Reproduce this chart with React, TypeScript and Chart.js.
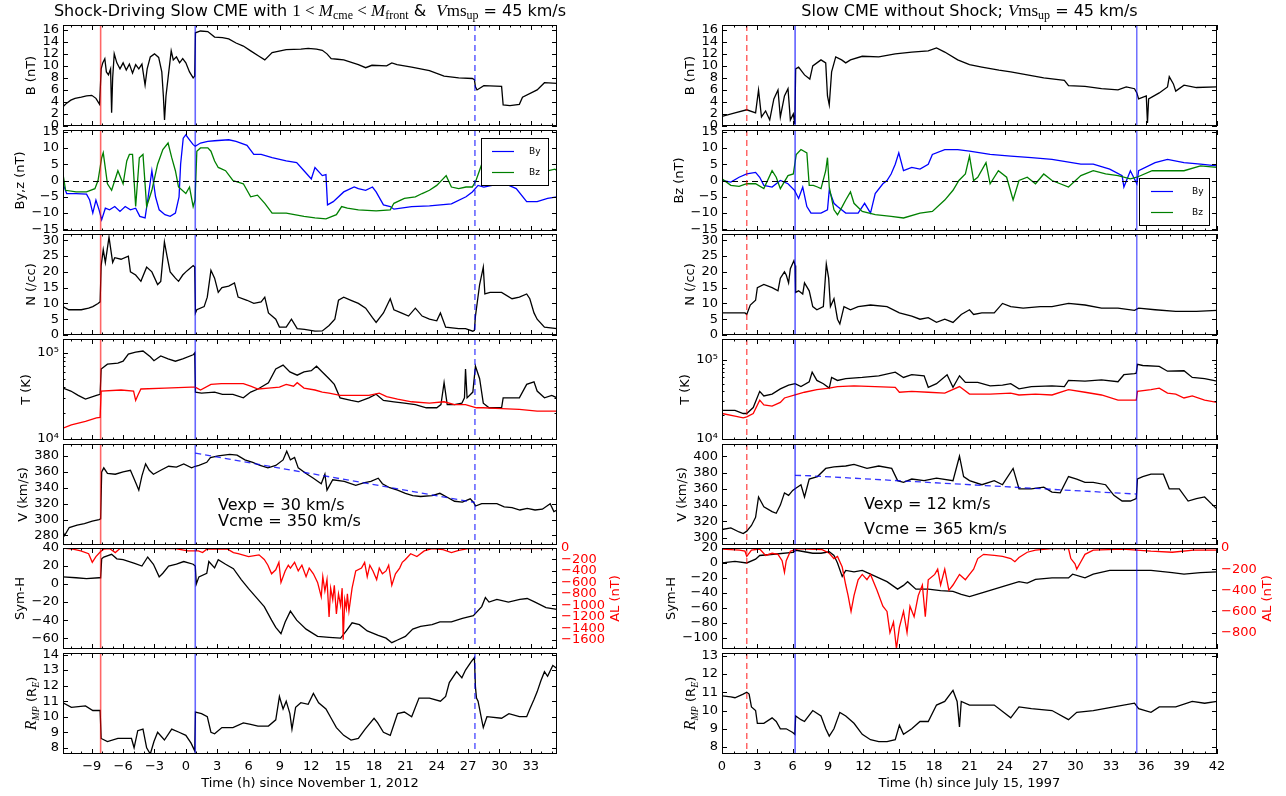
import { useEffect, useRef } from "react";
import { Chart, registerables } from "chart.js";

Chart.register(...registerables);

type P = [number, number];

// ================= LEFT COLUMN : hours since November 1, 2012 =================
const L_X_TICKS = [-9, -6, -3, 0, 3, 6, 9, 12, 15, 18, 21, 24, 27, 30, 33];
const L_EVENT_TIMES = [-8.15, 0.9, 27.65];

const L_B: P[] = [[-11.75,3.2],[-11.4,3.8],[-11,4.3],[-10.6,4.6],[-10,4.8],[-9.5,5.0],[-9,5.1],[-8.6,4.6],[-8.25,3.6],[-8.1,9.5],[-7.95,10.5],[-7.75,11.2],[-7.6,9.0],[-7.4,8.5],[-7.2,9.5],[-7.1,2.2],[-7.0,8.0],[-6.85,12.0],[-6.6,10.5],[-6.3,9.5],[-6.0,10.5],[-5.7,9.3],[-5.4,10.3],[-5.1,8.8],[-4.8,10.2],[-4.5,9.5],[-4.2,10.3],[-3.9,6.8],[-3.7,9.5],[-3.4,11.5],[-3.0,12.0],[-2.6,11.4],[-2.3,9.0],[-2.15,5],[-2.04,1.0],[-1.9,5.0],[-1.7,8.0],[-1.4,12.5],[-1.2,11.0],[-0.9,11.5],[-0.6,10.5],[-0.3,11.2],[0,10.5],[0.35,9.0],[0.7,8.0],[0.85,8.3],[0.92,15.5],[1.4,15.8],[2.1,15.7],[2.75,14.8],[3.5,14.7],[4.1,14.5],[4.8,13.8],[5.5,13.3],[6.2,12.5],[7.0,11.6],[7.55,11.0],[8.25,12.2],[9.6,12.7],[11.0,12.8],[11.7,12.9],[12.5,12.8],[13.05,12.6],[13.5,12.0],[13.9,11.2],[14.5,11.1],[15.1,11.0],[16.5,10.2],[17.2,9.7],[17.8,10.1],[19.2,10.0],[19.7,10.5],[20.2,10.2],[21.6,9.8],[23.3,9.2],[24.7,8.3],[26.1,8.0],[27.4,7.9],[27.6,7.7],[27.7,6.5],[27.85,6.0],[28.5,6.7],[30.2,6.6],[30.35,3.5],[31.0,3.4],[31.9,3.6],[32.2,4.8],[33.6,6.0],[34.3,7.2],[35.5,7.1]];

const L_BY: P[] = [[-11.75,-1],[-11.4,-4],[-10.5,-4],[-9.5,-4.2],[-9.2,-6],[-8.9,-10],[-8.6,-6],[-8.3,-9],[-8.05,-12],[-7.7,-8.5],[-7.3,-9],[-6.8,-8],[-6.3,-9.5],[-5.8,-8],[-5.3,-9],[-4.8,-8.5],[-4.4,-11],[-3.9,-11.5],[-3.6,-5],[-3.25,3],[-2.9,-5],[-2.55,-9],[-2.0,-10.5],[-1.5,-11],[-1.0,-10],[-0.65,-5],[-0.5,5],[-0.25,13],[0,14],[0.35,12.5],[0.7,11],[0.9,10.5],[1.4,11.5],[2.1,12],[2.75,12.2],[4.1,12.5],[4.8,12],[5.85,10.8],[6.5,8],[7.2,8],[8.25,7],[9.6,6],[10.6,5.5],[11.3,3],[12.0,0.5],[12.35,4],[13.05,1.5],[13.4,1.8],[13.55,-7.5],[14.1,-6.5],[15.1,-3.5],[16.1,-2],[16.5,-2.5],[17.2,-3],[17.85,-2],[18.2,-3.5],[18.9,-7.5],[19.55,-8],[19.9,-8.8],[21.6,-8],[23.3,-7.8],[25.4,-7.2],[26.8,-5],[27.4,-3.5],[27.95,-1.5],[28.5,-2],[30.0,-1],[30.9,-1.5],[31.6,-2.5],[32.6,-6.5],[33.6,-6.5],[34.6,-5.5],[35.5,-5]];

const L_BZ: P[] = [[-11.75,2],[-11.5,-3],[-10.5,-3.5],[-9.5,-3.5],[-8.7,-2.5],[-8.4,0],[-8.05,7],[-7.9,8.5],[-7.5,-1],[-7.1,-3],[-6.8,0],[-6.5,3],[-6.0,-1],[-5.65,6],[-5.4,8],[-5.1,8],[-4.8,-8],[-4.45,7],[-4.1,8],[-3.75,-8],[-3.25,-3],[-2.7,5],[-2.2,9.5],[-1.7,11.5],[-1.35,7],[-1.0,3],[-0.7,-2],[0,-4],[0.35,-2],[0.7,-8],[0.88,-6],[1.05,9],[1.4,10],[2.1,10],[2.4,9],[2.75,6],[3.1,4],[3.8,3],[4.5,0],[5.5,-1],[6.2,-5],[6.85,-4.5],[7.55,-7],[8.25,-10],[9.6,-10],[11.3,-11],[12.35,-11.5],[13.4,-11.8],[14.4,-10.5],[14.9,-8],[15.45,-8.5],[16.5,-9],[18.2,-9.3],[19.55,-9],[19.9,-7],[20.9,-5.5],[21.95,-5],[22.6,-4],[23.3,-3],[24.0,-1.5],[24.9,1.5],[25.4,-2],[26.1,-2.5],[26.8,-2],[27.4,-2],[27.75,0],[28.3,5],[29.5,3],[31,2],[32.5,3],[34,2.5],[35.3,3.5],[35.5,3]];

const L_N: P[] = [[-11.75,9],[-11.2,8],[-10,8],[-9.3,8.5],[-8.9,9],[-8.4,10],[-8.2,10.5],[-8.1,22],[-7.9,27],[-7.7,23],[-7.35,31],[-7.0,23],[-6.8,24.5],[-6.2,24],[-5.5,25],[-5.3,20],[-4.8,19],[-4.3,17],[-3.75,21.5],[-3.25,20],[-2.7,16],[-2.4,17],[-2.05,29.5],[-1.8,25],[-1.5,20],[-1.0,18],[-0.7,17],[-0.3,19],[0,20],[0.35,21],[0.7,22],[0.85,21.5],[0.92,7],[1.05,8],[1.75,9],[2.05,12],[2.4,20.5],[2.75,18],[3.1,13.5],[3.45,15],[4.1,15.5],[4.65,16.5],[5.0,12],[5.85,11],[6.5,10],[7.2,10.5],[7.55,12],[7.9,7],[8.6,5],[8.95,2.5],[9.6,2.5],[10.1,5],[10.65,2],[11.35,1.8],[12.35,1.2],[13.05,1.3],[13.7,3],[14.25,5],[14.6,11],[15.1,12],[15.8,11],[16.5,10],[17.2,8.5],[17.85,5.5],[18.2,4],[18.9,7],[19.55,11.5],[19.9,8],[20.6,7],[21.3,6],[21.95,8.5],[22.6,6],[23.3,5],[24.0,4.5],[24.35,7],[24.85,2.5],[26.1,2],[26.75,2],[27.45,1.2],[27.6,1.5],[27.7,6],[28.1,16],[28.45,21.5],[28.6,13],[29.1,13.5],[30.2,13.5],[31.2,11.5],[31.9,12],[32.6,13],[32.9,11.5],[33.3,7],[33.6,5],[34.3,2.5],[35.5,2]];

const L_TP: P[] = [[-11.75,39000],[-11,36000],[-10.3,32000],[-9.6,29000],[-8.55,32000],[-8.2,33000],[-8.1,65000],[-7.5,74000],[-6.5,76000],[-6,80000],[-5.5,97000],[-4.8,102000],[-4.1,105000],[-3.4,90000],[-3.05,81000],[-2.4,92000],[-1.7,85000],[-1.0,80000],[-0.3,85000],[0.7,95000],[0.85,100000],[0.92,35000],[1.5,34000],[2.75,35000],[3.5,33000],[4.5,33000],[5.5,30000],[6.2,35000],[6.9,38000],[7.9,45000],[8.6,65000],[9.3,72000],[9.95,60000],[10.65,55000],[11.3,60000],[12.0,62000],[12.5,70000],[13.05,60000],[13.7,50000],[14.2,43000],[14.75,30000],[15.8,28000],[16.5,27000],[17.5,30000],[18.2,33000],[18.9,28000],[19.9,27000],[20.9,26000],[21.95,25000],[23.0,23000],[24.0,23000],[24.4,25000],[24.7,45000],[25.0,25000],[25.7,25000],[26.4,26000],[26.65,30000],[26.75,65000],[26.9,30000],[27.45,35000],[27.7,70000],[28.1,50000],[28.45,26000],[29.0,23000],[30.2,23000],[30.35,30000],[31.9,30000],[32.6,43000],[33.3,46000],[33.6,36000],[34.3,30000],[35.0,32000],[35.5,30000]];

const L_TE: P[] = [[-11.75,13300],[-10.95,14500],[-9.6,16000],[-8.55,17500],[-8.2,17800],[-8.1,36000],[-6.2,37000],[-5.0,36000],[-4.8,28000],[-4.6,32000],[-4.3,38000],[-2,39000],[0.5,40000],[0.9,40000],[1.4,37000],[2.4,43000],[3.4,44000],[5.5,44000],[6.2,41000],[6.9,38000],[7.9,39000],[8.95,40000],[9.6,43000],[10.3,41000],[10.65,45000],[11.3,39000],[12.35,37000],[13.05,35000],[13.7,34000],[14.75,32000],[16.5,32000],[17.5,32000],[18.5,34000],[19.2,31000],[20.25,29000],[21.6,27000],[23.3,26000],[24.7,27000],[25.7,25000],[26.75,25000],[27.8,23000],[28.45,23000],[30.2,22500],[31.9,22000],[33.6,21000],[35.5,21000]];

const L_V: P[] = [[-11.75,285],[-11.6,280],[-11.15,290],[-10.4,293],[-9.7,295],[-8.95,298],[-8.3,300],[-8.15,301],[-8.05,360],[-7.85,365],[-7.5,358],[-6.75,357],[-6.0,360],[-5.3,362],[-4.75,345],[-4.5,337],[-4.2,355],[-3.85,370],[-3.5,362],[-3.1,357],[-2.4,362],[-1.65,367],[-0.9,366],[-0.2,370],[0.55,365],[0.9,367],[1.25,368],[2.0,372],[2.35,378],[3.1,380],[4.2,382],[4.9,381],[5.65,375],[6.4,372],[7.1,368],[7.85,365],[8.6,368],[9.3,375],[9.65,386],[10.0,375],[10.4,378],[10.75,365],[11.5,358],[12.2,352],[12.95,345],[13.3,357],[13.5,337],[14.05,350],[15.15,348],[16.25,343],[17.0,346],[17.7,348],[18.4,352],[18.8,345],[19.5,340],[20.25,337],[21.0,333],[21.7,330],[22.45,329],[23.55,330],[24.3,333],[25.0,328],[25.7,323],[26.45,322],[27.2,326],[27.5,322],[27.7,317],[28.3,320],[29.75,320],[30.45,316],[31.2,315],[31.95,312],[32.65,314],[33.4,312],[34.1,313],[34.85,320],[35.2,310],[35.5,312]];

const L_VFIT: P[] = [[0.9,383.5],[27.65,321.5]];

const L_SYMH: P[] = [[-11.75,8],[-10.5,7],[-9.5,6],[-8.3,7],[-8.15,7],[-8.05,28],[-7.85,30],[-7.1,33],[-6.6,28],[-6.0,27],[-4.9,23],[-4.2,20],[-3.65,30],[-3.1,22],[-2.55,8],[-2.2,12],[-1.65,20],[-0.9,22],[-0.2,25],[0.7,22],[0.9,20],[1.0,0],[1.25,8],[2.0,12],[2.2,25],[2.75,18],[3.1,27],[3.8,22],[4.55,17],[5.3,5],[6.0,-5],[6.75,-15],[7.5,-25],[8.2,-40],[8.6,-48],[9.1,-55],[9.5,-42],[10.0,-30],[10.6,-40],[11.5,-50],[12.6,-58],[13.7,-59],[14.8,-60],[15.35,-52],[15.9,-43],[16.6,-45],[17.35,-52],[18.4,-57],[19.15,-60],[19.7,-65],[20.25,-62],[21.0,-58],[21.7,-50],[22.45,-47],[23.55,-45],[24.3,-42],[25.4,-42],[26.45,-38],[27.5,-35],[28.3,-25],[28.65,-15],[29.0,-20],[29.75,-17],[30.85,-20],[31.95,-17],[32.65,-16],[33.4,-20],[34.45,-26],[35.5,-28]];

const L_AL: P[] = [[-11.75,0],[-10.8,-20],[-10.05,-50],[-9.3,-100],[-8.95,-250],[-8.6,-150],[-8.15,-60],[-7.85,-20],[-7.3,-10],[-6.75,-80],[-6.3,-10],[-4,-5],[-1,-10],[0.2,-50],[1.2,-50],[1.6,-80],[2.0,-20],[4.0,-20],[4.55,-80],[5.0,-100],[6.0,-150],[7.0,-120],[7.5,-200],[7.85,-300],[8.2,-450],[8.6,-380],[8.9,-250],[9.1,-600],[9.5,-400],[9.8,-300],[10.0,-350],[10.4,-250],[10.75,-400],[11.1,-300],[11.5,-500],[11.8,-350],[12.2,-450],[12.6,-600],[12.95,-850],[13.1,-500],[13.3,-750],[13.5,-550],[13.7,-1200],[13.85,-700],[14.05,-900],[14.2,-650],[14.4,-1150],[14.6,-800],[14.8,-1000],[14.95,-700],[15.05,-1600],[15.2,-900],[15.35,-1050],[15.45,-800],[15.6,-1100],[15.9,-700],[16.25,-400],[16.8,-350],[17.1,-250],[17.35,-500],[17.6,-300],[17.9,-400],[18.25,-550],[18.5,-350],[18.8,-450],[19.15,-400],[19.4,-300],[19.7,-650],[20.05,-450],[20.45,-350],[20.7,-250],[21.0,-200],[21.5,-100],[22.1,-150],[22.8,-50],[23.55,-10],[24.6,-30],[25.4,-80],[26.1,-40],[27,-10],[30,-5],[33,-10],[35.5,-5]];

const L_RMP: P[] = [[-11.75,10.9],[-10.95,10.6],[-9.6,10.7],[-8.9,10.4],[-8.2,10.4],[-8.1,8.6],[-7.5,8.4],[-6.5,8.6],[-5.2,8.6],[-4.95,8.0],[-4.6,9.1],[-4.1,9.2],[-3.75,8.0],[-3.4,7.6],[-3.05,8.4],[-2.7,9.0],[-2.05,8.5],[-1.35,9.2],[-0.65,9.0],[0,8.8],[0.5,8.3],[0.85,7.8],[0.92,10.3],[1.5,10.2],[2.05,10.0],[2.4,9.0],[2.75,8.9],[3.45,9.3],[4.5,9.3],[5.5,9.6],[6.2,9.5],[6.9,9.4],[7.9,9.4],[8.6,9.8],[8.95,11.3],[9.3,10.5],[9.6,11.0],[9.95,10.2],[10.15,9.2],[10.5,10.6],[11.0,10.9],[11.7,10.8],[12.2,11.5],[12.7,10.9],[13.4,10.5],[13.9,9.9],[14.4,9.3],[15.1,8.8],[15.8,8.5],[16.5,8.6],[17.15,9.2],[18.0,9.9],[18.35,9.6],[18.9,9.0],[19.55,8.8],[19.9,9.5],[20.25,10.2],[20.9,10.3],[21.6,10.0],[22.3,11.2],[23.3,11.2],[24.35,11.0],[24.85,11.3],[25.2,12.2],[25.9,12.9],[26.4,12.5],[26.75,13.0],[27.25,13.5],[27.6,13.8],[27.7,11.9],[27.8,11.2],[27.95,11.0],[28.3,9.8],[28.45,9.3],[28.8,10.0],[30.2,9.9],[30.9,10.2],[31.9,10.0],[32.6,10.0],[32.9,10.5],[33.3,11.1],[33.6,11.6],[33.95,12.3],[34.3,12.9],[34.6,12.6],[35.1,13.3],[35.5,13.1]];

// ================= RIGHT COLUMN : hours since July 15, 1997 =================
const R_X_TICKS = [0, 3, 6, 9, 12, 15, 18, 21, 24, 27, 30, 33, 36, 39, 42];
const R_EVENT_TIMES = [2.1, 6.2, 35.2];

const R_B: P[] = [[0,1.6],[1.1,2.2],[2.1,2.7],[2.85,2.2],[3.1,6.0],[3.35,1.5],[3.7,2.5],[4.05,1.0],[4.4,4.5],[4.75,6.0],[4.95,1.5],[5.3,5.0],[5.6,6.2],[5.8,1.0],[6.05,2.0],[6.18,0.3],[6.25,9.5],[6.5,9.8],[7.0,8.5],[7.45,7.8],[7.7,10],[8.4,11],[8.8,10.5],[8.95,5],[9.1,3.5],[9.3,9],[9.65,11.5],[10.15,11],[10.5,10.5],[10.9,11.0],[11.9,11.6],[13.3,11.5],[14.7,12],[16.1,12.3],[17.5,12.5],[18.2,13.0],[18.9,12.3],[20.0,11],[21.0,10.2],[22.05,9.8],[23.5,9.3],[24.5,9.0],[25.9,8.5],[27.3,8.0],[29.05,7.6],[29.4,6.7],[30.8,6.6],[32.2,6.2],[33.6,6.0],[34.3,6.5],[35.0,6.2],[35.2,5.5],[35.35,4.5],[36.0,5.0],[36.1,0.5],[36.2,4.5],[37.1,5.5],[37.8,6.5],[37.95,8.2],[38.3,7.0],[38.5,5.8],[39.2,6.8],[40.25,6.4],[42,6.5]];

const R_BY: P[] = [[0,0],[0.75,-0.5],[1.45,1],[2.1,2],[2.85,2.5],[3.2,1],[3.55,-1.5],[4.25,-2],[4.95,0],[5.6,-1],[6.15,-3],[6.5,-5.5],[6.85,-2],[7.2,-8],[7.55,-10],[8.4,-10],[8.95,-9],[9.1,-3],[9.5,-7],[9.8,-8],[10.5,-10],[11.55,-10],[12.1,-7],[12.6,-10],[13.0,-4],[13.65,-1],[14.0,0],[14.35,2],[14.7,5],[15.0,8.5],[15.4,3],[16.1,4],[16.8,3.5],[17.5,5],[17.85,8],[18.9,9.5],[20.0,9.5],[21.0,9],[22.75,8],[24.5,7.5],[26.25,7],[28.0,6.5],[30.45,5],[31.5,5],[32.9,3.5],[33.95,1.5],[34.1,-2],[34.65,3],[35.2,-1],[35.35,3],[36.75,5.5],[37.8,6.5],[39.2,5.5],[40.6,5],[42,4.5]];

const R_BZ: P[] = [[0,0.5],[0.75,-1.5],[1.45,-1.8],[2.1,-1],[2.85,-1],[3.55,-2.5],[4.25,3],[4.6,1],[4.95,-2.5],[5.6,1.5],[6.05,2],[6.3,8],[6.7,9.5],[7.2,8.5],[7.4,-1.5],[7.75,-1.5],[8.1,-2],[8.4,-2.5],[8.8,3],[8.95,7],[9.1,-2],[9.5,-9],[9.8,-10.5],[10.2,-8],[10.5,-6],[10.9,-3.5],[11.2,-7],[11.9,-9.5],[13.0,-10.5],[14.35,-11],[15.4,-11.5],[16.8,-10],[17.85,-9.5],[18.9,-6],[19.6,-3],[20.1,0],[20.65,2],[21.0,7.5],[21.35,0],[21.7,1],[22.4,5.5],[22.75,-1],[23.45,3],[24.15,1],[24.7,-6],[25.2,0],[25.9,1],[26.6,-1],[27.3,2],[28.0,0],[29.4,-2],[30.45,1.5],[31.5,3],[32.55,2],[33.6,1.5],[34.65,0.5],[35.2,1],[36.5,3],[37.8,3],[39.2,3],[40.6,4.5],[42,4]];

const R_N: P[] = [[0,7],[1.95,7],[2.1,6.5],[2.4,9.5],[2.85,11],[3.0,15],[3.55,16],[4.25,15],[4.75,14],[4.95,18],[5.3,20],[5.45,19],[5.65,16.5],[5.8,21],[6.1,23.5],[6.2,22],[6.25,13.5],[6.5,14],[6.85,13],[7.0,16.5],[7.4,14],[7.7,9],[8.05,8],[8.6,9],[8.85,22.5],[9.05,18],[9.2,9],[9.5,11.5],[9.8,5],[10.0,3.5],[10.35,9],[10.9,8],[11.55,9],[12.6,9.5],[14.0,9],[15.05,7],[16.1,6],[16.8,5],[17.5,5.5],[18.2,4],[18.9,5],[19.6,4],[20.3,6.5],[21.0,8],[21.35,6.5],[22.05,7],[23.1,7],[23.8,10],[24.5,9],[25.55,8.5],[27.0,9],[28.0,9],[29.4,10],[30.8,9.5],[32.2,8.5],[33.6,8.5],[35.0,7.8],[35.35,8.5],[36.75,8],[38.5,7.5],[40.25,7.5],[42,7.8]];

const R_TP: P[] = [[0,23000],[1.1,23000],[1.8,21000],[2.1,21000],[2.65,25000],[3.2,40000],[3.55,35000],[4.25,37000],[4.95,43000],[5.65,48000],[6.2,50000],[6.7,46000],[7.4,53000],[7.65,70000],[8.05,55000],[8.6,50000],[9.1,44000],[9.3,60000],[9.8,55000],[10.5,58000],[11.9,60000],[13.3,63000],[14.7,70000],[15.4,60000],[16.1,65000],[17.15,63000],[17.5,45000],[18.2,50000],[19.1,65000],[19.6,45000],[20.15,63000],[20.65,52000],[21.7,52000],[22.75,47000],[23.8,48000],[24.5,50000],[25.2,43000],[26.25,46000],[28.0,47000],[29.05,46000],[29.4,55000],[30.8,54000],[32.2,56000],[33.6,53000],[34.1,65000],[35.0,67000],[35.15,68000],[35.25,88000],[35.7,85000],[37.1,83000],[37.8,72000],[39.2,73000],[39.9,60000],[40.95,58000],[42,54000]];

const R_TE: P[] = [[0,21000],[1.1,19500],[1.8,18500],[2.1,19000],[2.65,21000],[3.2,31000],[3.55,27000],[4.25,26000],[4.95,29000],[5.3,33000],[6.2,36000],[7.0,39000],[8.05,42000],[9.1,44000],[9.8,46000],[11.2,47000],[13.0,46000],[14.7,45000],[15.05,39000],[16.1,40000],[17.5,39000],[18.9,38000],[20.15,46000],[21.0,37000],[22.75,37000],[24.5,38000],[25.2,36000],[26.6,37000],[28.0,36000],[29.4,42000],[30.8,39000],[32.2,36000],[33.6,31000],[35.0,31000],[35.15,31000],[35.25,40000],[36.4,42000],[37.1,44000],[37.8,38000],[38.5,37000],[39.2,33000],[39.9,35000],[40.95,31000],[42,29000]];

const R_V: P[] = [[0,310],[0.75,312],[1.45,307],[1.8,305],[2.1,308],[2.5,315],[2.85,325],[3.1,350],[3.55,338],[4.25,332],[4.6,330],[4.95,340],[5.3,355],[5.65,352],[6.0,358],[6.2,360],[6.7,365],[7.0,350],[7.4,372],[8.1,375],[8.8,385],[9.5,387],[10.5,388],[11.2,390],[12.3,385],[13.3,388],[14.4,385],[14.9,370],[15.4,368],[16.1,372],[17.15,370],[18.2,373],[19.6,370],[20.15,400],[20.5,375],[21.0,370],[22.05,365],[23.1,370],[23.8,365],[24.7,385],[25.2,360],[26.25,360],[27.3,362],[28.0,356],[28.7,355],[29.4,375],[30.1,372],[30.8,368],[31.5,368],[32.55,365],[33.25,352],[33.95,345],[34.65,345],[35.15,348],[35.25,372],[35.7,375],[36.4,378],[37.45,378],[37.95,360],[38.8,360],[39.55,345],[40.25,348],[40.95,350],[41.65,340],[42,335]];

const R_VFIT: P[] = [[6.2,376.5],[7.5,376],[35.2,353.5]];

const R_SYMH: P[] = [[0,0],[1.1,2],[2.1,0],[2.85,5],[3.2,10],[4.6,12],[6.0,14],[6.3,17],[7.0,15],[7.7,13],[8.4,13],[9.1,15],[9.5,10],[9.8,0],[10.2,-18],[10.5,-10],[11.2,-12],[11.9,-10],[12.6,-15],[13.3,-20],[14.0,-25],[14.9,-35],[15.4,-30],[15.75,-25],[16.45,-35],[17.5,-35],[18.55,-37],[19.6,-38],[20.3,-42],[21.0,-45],[22.05,-40],[23.1,-35],[24.15,-30],[25.2,-25],[25.9,-27],[26.6,-22],[28.0,-20],[29.4,-20],[29.75,-15],[30.8,-20],[31.5,-15],[32.9,-10],[35.0,-10],[36.4,-10],[38.2,-13],[39.2,-15],[40.6,-13],[42,-12]];

const R_AL: P[] = [[0,-10],[1.5,-20],[1.95,-30],[2.1,-80],[2.5,-20],[3.2,-10],[3.7,-70],[4.25,-50],[4.75,-60],[5.1,-120],[5.3,-230],[5.45,-120],[5.8,-30],[6.5,-5],[8.5,-15],[9.1,-50],[9.5,-100],[9.8,-80],[10.2,-180],[10.5,-350],[10.7,-450],[10.95,-600],[11.2,-450],[11.55,-300],[11.9,-250],[12.3,-300],[12.6,-250],[13.15,-400],[13.65,-550],[14.0,-600],[14.25,-800],[14.55,-700],[14.8,-950],[15.05,-750],[15.4,-600],[15.7,-800],[15.95,-550],[16.3,-650],[16.65,-450],[17.0,-350],[17.25,-650],[17.5,-300],[18.05,-250],[18.3,-200],[18.55,-350],[18.9,-200],[19.25,-400],[19.6,-350],[20.15,-250],[20.65,-300],[21.0,-250],[21.35,-200],[21.7,-100],[22.2,-60],[23.1,-70],[23.8,-80],[24.5,-100],[24.85,-130],[25.2,-90],[25.9,-40],[26.6,-20],[28,-5],[29.4,-5],[29.6,-100],[29.95,-150],[30.1,-200],[30.45,-130],[30.8,-60],[31.5,-20],[34,-10],[36.4,-30],[38.2,-40],[40,-20],[42,-20]];

const R_RMP: P[] = [[0,10.8],[0.75,10.75],[1.1,10.7],[1.8,10.9],[2.1,11.0],[2.3,10.9],[2.5,10.2],[2.85,10.0],[3.0,9.3],[3.55,9.3],[4.25,9.6],[4.6,9.4],[4.95,9.0],[5.45,9.0],[6.0,8.8],[6.18,8.7],[6.25,9.7],[6.7,9.5],[7.0,9.4],[7.7,10.0],[8.4,9.7],[8.8,9.0],[9.1,8.6],[9.5,9.0],[10.0,9.9],[10.5,9.7],[11.2,9.3],[11.9,8.7],[12.6,8.4],[13.3,8.3],[14.0,8.3],[14.7,8.4],[15.05,9.2],[15.4,8.7],[16.1,9.0],[16.8,9.4],[17.5,9.4],[18.2,10.3],[18.9,10.5],[19.6,11.1],[19.95,10.5],[20.15,9.1],[20.3,10.5],[21.0,10.3],[22.05,10.3],[23.1,10.3],[24.5,9.6],[25.2,10.2],[26.25,10.1],[28.0,10.0],[29.4,9.5],[30.1,9.9],[31.5,10.0],[33.25,10.2],[35.0,10.4],[35.35,10.1],[36.4,9.9],[37.1,10.2],[38.5,10.2],[39.9,10.5],[40.95,10.4],[42,10.5]];

// ================= tick values =================
const B_TICKS = [0, 2, 4, 6, 8, 10, 12, 14, 16];
const BYZ_TICKS = [-15, -10, -5, 0, 5, 10, 15];
const N_TICKS = [0, 5, 10, 15, 20, 25, 30];
const T_TICKS = [10000, 100000];
const T_TICK_LABELS = ["10\u2074", "10\u2075"];
const L_V_TICKS = [280, 300, 320, 340, 360, 380];
const R_V_TICKS = [300, 320, 340, 360, 380, 400];
const L_SYMH_TICKS = [-60, -40, -20, 0, 20, 40];
const R_SYMH_TICKS = [-100, -80, -60, -40, -20, 0, 20];
const L_AL_TICKS = [-1600, -1400, -1200, -1000, -800, -600, -400, -200, 0];
const R_AL_TICKS = [-800, -600, -400, -200, 0];
const L_RMP_TICKS = [8, 9, 10, 11, 12, 13, 14];
const R_RMP_TICKS = [8, 9, 10, 11, 12, 13];

const L_NOTES = ["Vexp = 30 km/s", "Vcme = 350 km/s"];
const R_NOTES = ["Vexp = 12 km/s", "Vcme = 365 km/s"];

// ================= styles & layout =================
const SANS = '"DejaVu Sans", "Liberation Sans", sans-serif';
const SERIF = '"Liberation Serif", "DejaVu Serif", serif';
const BLACK = "#000000";
const RED = "#ff0000";
const BLUE = "#0000ff";
const GREEN = "#008000";
const PAGE_H = 796;
const ROW_TOP = [25, 130, 234, 339, 444, 548, 653];
const ROW_H = 101;
const LINE_W = 1.3;

type Run = { t: string; f: string; dy?: number };

const TITLE_L: Run[] = [
  { t: "Shock-Driving Slow CME with ", f: `16px ${SANS}` },
  { t: "1 < ", f: `17px ${SERIF}` },
  { t: "M", f: `italic 17px ${SERIF}` },
  { t: "cme", f: `12px ${SERIF}`, dy: 3 },
  { t: " < ", f: `17px ${SERIF}` },
  { t: "M", f: `italic 17px ${SERIF}` },
  { t: "front", f: `12px ${SERIF}`, dy: 3 },
  { t: " &  ", f: `16px ${SANS}` },
  { t: "V", f: `italic 17px ${SERIF}` },
  { t: "ms", f: `17px ${SERIF}` },
  { t: "up", f: `12px ${SERIF}`, dy: 3 },
  { t: " = 45 km/s", f: `16px ${SANS}` },
];
const TITLE_R: Run[] = [
  { t: "Slow CME without Shock; ", f: `16px ${SANS}` },
  { t: "V", f: `italic 17px ${SERIF}` },
  { t: "ms", f: `17px ${SERIF}` },
  { t: "up", f: `12px ${SERIF}`, dy: 3 },
  { t: " = 45 km/s", f: `16px ${SANS}` },
];
const RMP_LABEL: Run[] = [
  { t: "R", f: `italic 16px ${SERIF}` },
  { t: "MP", f: `italic 10px ${SERIF}`, dy: 3 },
  { t: " (R", f: `13px ${SANS}` },
  { t: "E", f: `italic 10px ${SERIF}`, dy: 3 },
  { t: ")", f: `13px ${SANS}` },
];

const COLS: any[] = [
  {
    canvasLeft: 0, canvasWidth: 640, plotLeft: 63, plotRight: 557,
    xMin: -11.75, xMax: 35.5, xTicks: L_X_TICKS, eventTimes: L_EVENT_TIMES,
    eventStyles: [
      { color: "rgba(255,0,0,0.6)", width: 1.6, dash: [] },
      { color: "rgba(0,0,255,0.6)", width: 1.6, dash: [] },
      { color: "rgba(0,0,255,0.6)", width: 1.6, dash: [6, 4] },
    ],
    title: TITLE_L, xTitle: "Time (h) since November 1, 2012",
  },
  {
    canvasLeft: 640, canvasWidth: 646, plotLeft: 722, plotRight: 1217,
    xMin: 0, xMax: 42, xTicks: R_X_TICKS, eventTimes: R_EVENT_TIMES,
    eventStyles: [
      { color: "rgba(255,0,0,0.6)", width: 1.5, dash: [6, 4] },
      { color: "#0000ff", width: 1, dash: [] },
      { color: "rgba(0,0,255,0.85)", width: 1, dash: [] },
    ],
    title: TITLE_R, xTitle: "Time (h) since July 15, 1997",
  },
];

const PANELS: any[] = [
  { col: 0, row: 0, yMin: 0, yMax: 16.8, yTicks: B_TICKS, yTitle: "B (nT)", series: [{ data: L_B, color: BLACK }] },
  {
    col: 0, row: 1, yMin: -15.5, yMax: 15.5, yTicks: BYZ_TICKS, yTitle: "By,z (nT)", zero: true,
    legend: { x: 481, y: 138, w: 67, h: 47, l0: 11, l1: 33, tx: 48 },
    series: [{ data: L_BY, color: BLUE, label: "By" }, { data: L_BZ, color: GREEN, label: "Bz" }],
  },
  { col: 0, row: 2, yMin: 0, yMax: 32, yTicks: N_TICKS, yTitle: "N (/cc)", series: [{ data: L_N, color: BLACK }] },
  {
    col: 0, row: 3, log: true, yMin: 9700, yMax: 145000, yTicks: T_TICKS, yLabels: T_TICK_LABELS, yTitle: "T (K)",
    series: [{ data: L_TP, color: BLACK }, { data: L_TE, color: RED }],
  },
  {
    col: 0, row: 4, yMin: 268, yMax: 395, yTicks: L_V_TICKS, yTitle: "V (km/s)",
    notes: { lines: L_NOTES, x: 218, y: [506, 522] },
    series: [{ data: L_V, color: BLACK }, { data: L_VFIT, color: "rgba(0,0,255,0.8)", dash: [6, 4], width: 1.3 }],
  },
  {
    col: 0, row: 5, yMin: -72, yMax: 40, yTicks: L_SYMH_TICKS, yTitle: "Sym-H",
    y1: { min: -1760, max: 0, ticks: L_AL_TICKS, title: "AL (nT)" },
    series: [{ data: L_SYMH, color: BLACK }, { data: L_AL, color: RED, axis: "y1" }],
  },
  { col: 0, row: 6, yMin: 7.6, yMax: 14.1, yTicks: L_RMP_TICKS, yTitle: "RMP", series: [{ data: L_RMP, color: BLACK }] },

  { col: 1, row: 0, yMin: 0, yMax: 16.8, yTicks: B_TICKS, yTitle: "B (nT)", series: [{ data: R_B, color: BLACK }] },
  {
    col: 1, row: 1, yMin: -15.5, yMax: 15.5, yTicks: BYZ_TICKS, yTitle: "Bz (nT)", zero: true,
    legend: { x: 1139, y: 178, w: 70, h: 47, l0: 12, l1: 34, tx: 53 },
    series: [{ data: R_BY, color: BLUE, label: "By" }, { data: R_BZ, color: GREEN, label: "Bz" }],
  },
  { col: 1, row: 2, yMin: 0, yMax: 32, yTicks: N_TICKS, yTitle: "N (/cc)", series: [{ data: R_N, color: BLACK }] },
  {
    col: 1, row: 3, log: true, yMin: 9700, yMax: 184000, yTicks: T_TICKS, yLabels: T_TICK_LABELS, yTitle: "T (K)",
    series: [{ data: R_TP, color: BLACK }, { data: R_TE, color: RED }],
  },
  {
    col: 1, row: 4, yMin: 291, yMax: 415, yTicks: R_V_TICKS, yTitle: "V (km/s)",
    notes: { lines: R_NOTES, x: 864, y: [505, 530] },
    series: [{ data: R_V, color: BLACK }, { data: R_VFIT, color: "rgba(0,0,255,0.8)", dash: [6, 4], width: 1.3 }],
  },
  {
    col: 1, row: 5, yMin: -115, yMax: 20, yTicks: R_SYMH_TICKS, yTitle: "Sym-H",
    y1: { min: -955, max: 0, ticks: R_AL_TICKS, title: "AL (nT)" },
    series: [{ data: R_SYMH, color: BLACK }, { data: R_AL, color: RED, axis: "y1" }],
  },
  { col: 1, row: 6, yMin: 7.62, yMax: 13.15, yTicks: R_RMP_TICKS, yTitle: "RMP", series: [{ data: R_RMP, color: BLACK }] },
];

const minus = (v: number) => String(v).replace("-", "\u2212");

function seg(ctx: CanvasRenderingContext2D, x0: number, y0: number, x1: number, y1: number) {
  ctx.beginPath();
  ctx.moveTo(x0, y0);
  ctx.lineTo(x1, y1);
  ctx.stroke();
}

function drawRuns(ctx: CanvasRenderingContext2D, runs: Run[], x: number, y: number, rot: number, color: string) {
  ctx.save();
  ctx.translate(x, y);
  ctx.rotate(rot);
  ctx.fillStyle = color;
  ctx.textBaseline = "alphabetic";
  ctx.textAlign = "left";
  let w = 0;
  for (const r of runs) {
    ctx.font = r.f;
    w += ctx.measureText(r.t).width;
  }
  let cx = -w / 2;
  for (const r of runs) {
    ctx.font = r.f;
    ctx.fillText(r.t, cx, r.dy || 0);
    cx += ctx.measureText(r.t).width;
  }
  ctx.restore();
}

function drawRotated(ctx: CanvasRenderingContext2D, text: string, x: number, y: number, font: string, color: string) {
  ctx.save();
  ctx.translate(x, y);
  ctx.rotate(-Math.PI / 2);
  ctx.font = font;
  ctx.fillStyle = color;
  ctx.textAlign = "center";
  ctx.textBaseline = "middle";
  ctx.fillText(text, 0, 0);
  ctx.restore();
}

function makePlugin(col: any, p: any) {
  const ox = col.canvasLeft;
  return {
    id: "panelDecor",
    afterDatasetsDraw(chart: any) {
      const { ctx, chartArea: ca } = chart;
      const xs = chart.scales.x;
      const ys = chart.scales.y;
      ctx.save();
      ctx.beginPath();
      ctx.rect(ca.left, ca.top, ca.right - ca.left, ca.bottom - ca.top);
      ctx.clip();
      if (p.zero) {
        const y = Math.round(ys.getPixelForValue(0)) + 0.5;
        ctx.strokeStyle = BLACK;
        ctx.lineWidth = 1;
        ctx.setLineDash([6, 4]);
        seg(ctx, ca.left, y, ca.right, y);
      }
      col.eventTimes.forEach((t: number, i: number) => {
        const st = col.eventStyles[i];
        const x = xs.getPixelForValue(t);
        ctx.strokeStyle = st.color;
        ctx.lineWidth = st.width;
        ctx.setLineDash(st.dash);
        seg(ctx, x, ca.top, x, ca.bottom);
      });
      ctx.restore();

      if (p.legend) {
        const lg = p.legend;
        const lx = lg.x - ox;
        ctx.save();
        ctx.fillStyle = "#ffffff";
        ctx.fillRect(lx, lg.y, lg.w, lg.h);
        ctx.strokeStyle = BLACK;
        ctx.lineWidth = 1;
        ctx.strokeRect(lx + 0.5, lg.y + 0.5, lg.w, lg.h);
        const rows = [lg.y + 13, lg.y + 34];
        p.series.forEach((s: any, i: number) => {
          ctx.strokeStyle = s.color;
          ctx.lineWidth = 1.2;
          seg(ctx, lx + lg.l0, rows[i] + 0.5, lx + lg.l1, rows[i] + 0.5);
          ctx.fillStyle = BLACK;
          ctx.font = `9px ${SANS}`;
          ctx.textAlign = "left";
          ctx.textBaseline = "middle";
          ctx.fillText(s.label, lx + lg.tx, rows[i] + 1);
        });
        ctx.restore();
      }

      if (p.notes) {
        ctx.save();
        ctx.fillStyle = BLACK;
        ctx.font = `16px ${SANS}`;
        ctx.textAlign = "left";
        ctx.textBaseline = "middle";
        p.notes.lines.forEach((txt: string, i: number) => ctx.fillText(txt, p.notes.x - ox, p.notes.y[i]));
        ctx.restore();
      }
    },
    afterDraw(chart: any) {
      const { ctx, chartArea: ca } = chart;
      const xs = chart.scales.x;
      const ys = chart.scales.y;
      const L = ca.left, R = ca.right, T = ca.top, B = ca.bottom;
      ctx.save();
      ctx.strokeStyle = BLACK;
      ctx.lineWidth = 1;
      ctx.setLineDash([]);
      ctx.strokeRect(L + 0.5, T + 0.5, R - L - 1, B - T - 1);
      for (const v of col.xTicks) {
        const x = Math.round(xs.getPixelForValue(v)) + 0.5;
        seg(ctx, x, B, x, B - 5);
        seg(ctx, x, T, x, T + 5);
      }
      for (let h = Math.ceil(col.xMin); h <= col.xMax; h++) {
        if (col.xTicks.includes(h)) continue;
        const x = Math.round(xs.getPixelForValue(h)) + 0.5;
        seg(ctx, x, B, x, B - 2.5);
        seg(ctx, x, T, x, T + 2.5);
      }
      for (const v of p.yTicks) {
        const y = Math.round(ys.getPixelForValue(v)) + 0.5;
        seg(ctx, L, y, L + 5, y);
        if (!p.y1) seg(ctx, R, y, R - 5, y);
      }
      if (p.log) {
        for (let e = 3; e <= 5; e++) {
          for (let m = 2; m <= 9; m++) {
            const v = m * Math.pow(10, e);
            if (v < p.yMin || v > p.yMax) continue;
            const y = Math.round(ys.getPixelForValue(v)) + 0.5;
            seg(ctx, L, y, L + 2.5, y);
            seg(ctx, R, y, R - 2.5, y);
          }
        }
      }
      if (p.y1) {
        const y1s = chart.scales.y1;
        for (const v of p.y1.ticks) {
          const y = Math.round(y1s.getPixelForValue(v)) + 0.5;
          seg(ctx, R, y, R - 5, y);
        }
      }
      ctx.font = `13px ${SANS}`;
      const labels = p.yTicks.map((v: number, i: number) => (p.yLabels ? p.yLabels[i] : minus(v)));
      let maxW = 0;
      for (const s of labels) maxW = Math.max(maxW, ctx.measureText(s).width);
      const cy = (T + B) / 2;
      const cx = L - 4 - maxW - 4 - 7;
      if (p.yTitle === "RMP") drawRuns(ctx, RMP_LABEL, cx + 5, cy, -Math.PI / 2, BLACK);
      else drawRotated(ctx, p.yTitle, cx, cy, `13px ${SANS}`, BLACK);
      if (p.y1) {
        ctx.font = `13px ${SANS}`;
        let w1 = 0;
        for (const v of p.y1.ticks) w1 = Math.max(w1, ctx.measureText(minus(v)).width);
        drawRotated(ctx, p.y1.title, R + 4 + w1 + 4 + 7, cy, `13px ${SANS}`, RED);
      }
      const mid = (L + R) / 2;
      if (p.row === 0) drawRuns(ctx, col.title, mid, 16, 0, BLACK);
      if (p.row === 6) {
        ctx.font = `13px ${SANS}`;
        ctx.fillStyle = BLACK;
        ctx.textAlign = "center";
        ctx.textBaseline = "middle";
        ctx.fillText(col.xTitle, mid, 784);
      }
      ctx.restore();
    },
  };
}

function buildChart(canvas: HTMLCanvasElement, p: any) {
  const col = COLS[p.col];
  const top = ROW_TOP[p.row];
  const bottom = top + ROW_H;
  const isBottom = p.row === 6;
  const xAxisH = isBottom ? PAGE_H - bottom : 0;
  const yW = col.plotLeft - col.canvasLeft;
  const rW = col.canvasLeft + col.canvasWidth - col.plotRight;
  const tickFont = { family: SANS, size: 13 };
  const noGrid = { display: false, drawTicks: false };

  const scales: any = {
    x: {
      type: "linear", position: "bottom", min: col.xMin, max: col.xMax, bounds: "data",
      grid: noGrid, border: { display: false },
      ticks: {
        display: isBottom, font: tickFont, color: BLACK, padding: 5, autoSkip: false,
        maxRotation: 0, minRotation: 0, callback: (v: number) => minus(v),
      },
      afterBuildTicks: (s: any) => { s.ticks = col.xTicks.map((v: number) => ({ value: v })); },
      afterFit: (s: any) => { s.height = xAxisH; },
    },
    y: {
      type: p.log ? "logarithmic" : "linear", position: "left", min: p.yMin, max: p.yMax, bounds: "data",
      grid: noGrid, border: { display: false },
      ticks: {
        font: tickFont, color: BLACK, padding: 4, autoSkip: false,
        callback: (v: number, i: number) => (p.yLabels ? p.yLabels[i] : minus(v)),
      },
      afterBuildTicks: (s: any) => { s.ticks = p.yTicks.map((v: number) => ({ value: v })); },
      afterFit: (s: any) => { s.width = yW; },
    },
  };
  if (p.y1) {
    scales.y1 = {
      type: "linear", position: "right", min: p.y1.min, max: p.y1.max, bounds: "data",
      grid: noGrid, border: { display: false },
      ticks: { font: tickFont, color: RED, padding: 4, autoSkip: false, callback: (v: number) => minus(v) },
      afterBuildTicks: (s: any) => { s.ticks = p.y1.ticks.map((v: number) => ({ value: v })); },
      afterFit: (s: any) => { s.width = rW; },
    };
  }

  const n = p.series.length;
  const datasets = p.series.map((s: any, i: number) => ({
    data: s.data.map(([x, y]: P) => ({ x, y })),
    borderColor: s.color,
    borderWidth: s.width ?? LINE_W,
    borderDash: s.dash ?? [],
    pointRadius: 0,
    pointHoverRadius: 0,
    tension: 0,
    fill: false,
    yAxisID: s.axis ?? "y",
    order: n - i,
  }));

  return new Chart(canvas, {
    type: "line",
    data: { datasets },
    options: {
      responsive: false,
      animation: false,
      devicePixelRatio: 1,
      events: [],
      layout: { padding: { top, bottom: PAGE_H - bottom - xAxisH, left: 0, right: p.y1 ? 0 : rW } },
      plugins: { legend: { display: false }, tooltip: { enabled: false }, title: { display: false } },
      scales,
    },
    plugins: [makePlugin(col, p)],
  } as any);
}

export default function App() {
  const refs = useRef<(HTMLCanvasElement | null)[]>([]);
  useEffect(() => {
    const charts = PANELS.map((p, i) => buildChart(refs.current[i] as HTMLCanvasElement, p));
    return () => charts.forEach((c) => c.destroy());
  }, []);
  return (
    <div style={{ position: "absolute", left: 0, top: 0, width: 1286, height: 796, background: "#ffffff", overflow: "hidden" }}>
      {PANELS.map((p, i) => (
        <canvas
          key={i}
          ref={(el) => { refs.current[i] = el; }}
          width={COLS[p.col].canvasWidth}
          height={PAGE_H}
          style={{ position: "absolute", left: COLS[p.col].canvasLeft, top: 0 }}
        />
      ))}
    </div>
  );
}
